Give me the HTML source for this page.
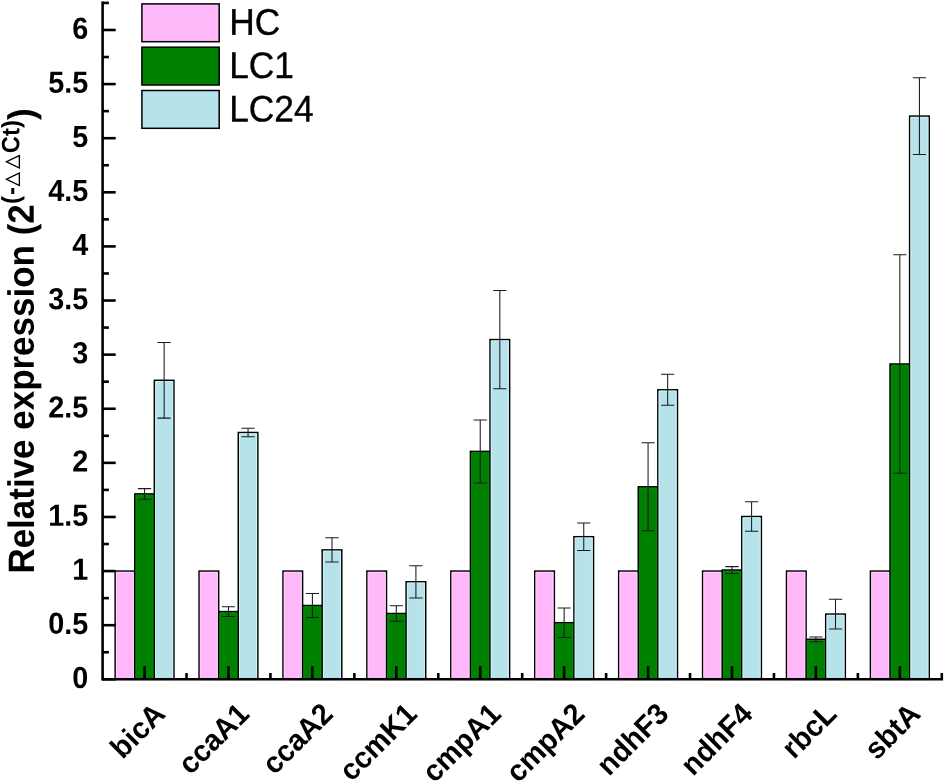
<!DOCTYPE html>
<html><head><meta charset="utf-8"><title>Relative expression</title>
<style>html,body{margin:0;padding:0;background:#fff}svg{display:block}</style>
</head><body>
<svg width="945" height="782" viewBox="0 0 945 782" font-family="'Liberation Sans', sans-serif">
<rect width="945" height="782" fill="#fff"/>
<g stroke="#000" stroke-width="1.5">
<rect x="115.15" y="571.08" width="19.6" height="108.22" fill="#ffb8fa"/>
<rect x="134.75" y="493.90" width="19.6" height="185.40" fill="#008000"/>
<rect x="154.35" y="380.30" width="19.6" height="299.00" fill="#b6e3e9"/>
<rect x="199.07" y="571.08" width="19.6" height="108.22" fill="#ffb8fa"/>
<rect x="218.67" y="611.60" width="19.6" height="67.70" fill="#008000"/>
<rect x="238.27" y="432.50" width="19.6" height="246.80" fill="#b6e3e9"/>
<rect x="282.99" y="571.08" width="19.6" height="108.22" fill="#ffb8fa"/>
<rect x="302.59" y="605.50" width="19.6" height="73.80" fill="#008000"/>
<rect x="322.19" y="549.90" width="19.6" height="129.40" fill="#b6e3e9"/>
<rect x="366.91" y="571.08" width="19.6" height="108.22" fill="#ffb8fa"/>
<rect x="386.51" y="613.50" width="19.6" height="65.80" fill="#008000"/>
<rect x="406.11" y="581.80" width="19.6" height="97.50" fill="#b6e3e9"/>
<rect x="450.83" y="571.08" width="19.6" height="108.22" fill="#ffb8fa"/>
<rect x="470.43" y="451.40" width="19.6" height="227.90" fill="#008000"/>
<rect x="490.03" y="339.60" width="19.6" height="339.70" fill="#b6e3e9"/>
<rect x="534.75" y="571.08" width="19.6" height="108.22" fill="#ffb8fa"/>
<rect x="554.35" y="622.70" width="19.6" height="56.60" fill="#008000"/>
<rect x="573.95" y="536.70" width="19.6" height="142.60" fill="#b6e3e9"/>
<rect x="618.67" y="571.08" width="19.6" height="108.22" fill="#ffb8fa"/>
<rect x="638.27" y="486.80" width="19.6" height="192.50" fill="#008000"/>
<rect x="657.87" y="389.80" width="19.6" height="289.50" fill="#b6e3e9"/>
<rect x="702.59" y="571.08" width="19.6" height="108.22" fill="#ffb8fa"/>
<rect x="722.19" y="570.00" width="19.6" height="109.30" fill="#008000"/>
<rect x="741.79" y="516.50" width="19.6" height="162.80" fill="#b6e3e9"/>
<rect x="786.51" y="571.08" width="19.6" height="108.22" fill="#ffb8fa"/>
<rect x="806.11" y="639.30" width="19.6" height="40.00" fill="#008000"/>
<rect x="825.71" y="614.10" width="19.6" height="65.20" fill="#b6e3e9"/>
<rect x="870.43" y="571.08" width="19.6" height="108.22" fill="#ffb8fa"/>
<rect x="890.03" y="364.00" width="19.6" height="315.30" fill="#008000"/>
<rect x="909.63" y="116.10" width="19.6" height="563.20" fill="#b6e3e9"/>
</g>
<g fill="none" stroke-width="1" stroke-opacity="0.8">
<path d="M116.40 678.00V572.33H133.50V678.00" stroke="#ffd6fd"/>
<path d="M136.00 678.00V495.15H153.10V678.00" stroke="#0a8c0a"/>
<path d="M155.60 678.00V381.55H172.70V678.00" stroke="#d6f6fa"/>
<path d="M200.32 678.00V572.33H217.42V678.00" stroke="#ffd6fd"/>
<path d="M219.92 678.00V612.85H237.02V678.00" stroke="#0a8c0a"/>
<path d="M239.52 678.00V433.75H256.62V678.00" stroke="#d6f6fa"/>
<path d="M284.24 678.00V572.33H301.34V678.00" stroke="#ffd6fd"/>
<path d="M303.84 678.00V606.75H320.94V678.00" stroke="#0a8c0a"/>
<path d="M323.44 678.00V551.15H340.54V678.00" stroke="#d6f6fa"/>
<path d="M368.16 678.00V572.33H385.26V678.00" stroke="#ffd6fd"/>
<path d="M387.76 678.00V614.75H404.86V678.00" stroke="#0a8c0a"/>
<path d="M407.36 678.00V583.05H424.46V678.00" stroke="#d6f6fa"/>
<path d="M452.08 678.00V572.33H469.18V678.00" stroke="#ffd6fd"/>
<path d="M471.68 678.00V452.65H488.78V678.00" stroke="#0a8c0a"/>
<path d="M491.28 678.00V340.85H508.38V678.00" stroke="#d6f6fa"/>
<path d="M536.00 678.00V572.33H553.10V678.00" stroke="#ffd6fd"/>
<path d="M555.60 678.00V623.95H572.70V678.00" stroke="#0a8c0a"/>
<path d="M575.20 678.00V537.95H592.30V678.00" stroke="#d6f6fa"/>
<path d="M619.92 678.00V572.33H637.02V678.00" stroke="#ffd6fd"/>
<path d="M639.52 678.00V488.05H656.62V678.00" stroke="#0a8c0a"/>
<path d="M659.12 678.00V391.05H676.22V678.00" stroke="#d6f6fa"/>
<path d="M703.84 678.00V572.33H720.94V678.00" stroke="#ffd6fd"/>
<path d="M723.44 678.00V571.25H740.54V678.00" stroke="#0a8c0a"/>
<path d="M743.04 678.00V517.75H760.14V678.00" stroke="#d6f6fa"/>
<path d="M787.76 678.00V572.33H804.86V678.00" stroke="#ffd6fd"/>
<path d="M807.36 678.00V640.55H824.46V678.00" stroke="#0a8c0a"/>
<path d="M826.96 678.00V615.35H844.06V678.00" stroke="#d6f6fa"/>
<path d="M871.68 678.00V572.33H888.78V678.00" stroke="#ffd6fd"/>
<path d="M891.28 678.00V365.25H908.38V678.00" stroke="#0a8c0a"/>
<path d="M910.88 678.00V117.35H927.98V678.00" stroke="#d6f6fa"/>
</g>
<g stroke="#1a1a1a" stroke-width="1.05" fill="none">
<path d="M144.55 488.60V499.20M137.95 488.60H151.15M137.95 499.20H151.15"/>
<path d="M164.15 342.50V418.10M157.55 342.50H170.75M157.55 418.10H170.75"/>
<path d="M228.47 606.80V616.40M221.87 606.80H235.07M221.87 616.40H235.07"/>
<path d="M248.07 428.30V436.70M241.47 428.30H254.67M241.47 436.70H254.67"/>
<path d="M312.39 593.50V617.50M305.79 593.50H318.99M305.79 617.50H318.99"/>
<path d="M331.99 537.80V562.00M325.39 537.80H338.59M325.39 562.00H338.59"/>
<path d="M396.31 605.70V621.30M389.71 605.70H402.91M389.71 621.30H402.91"/>
<path d="M415.91 565.70V597.90M409.31 565.70H422.51M409.31 597.90H422.51"/>
<path d="M480.23 419.90V482.90M473.63 419.90H486.83M473.63 482.90H486.83"/>
<path d="M499.83 290.40V388.80M493.23 290.40H506.43M493.23 388.80H506.43"/>
<path d="M564.15 607.90V637.50M557.55 607.90H570.75M557.55 637.50H570.75"/>
<path d="M583.75 523.00V550.40M577.15 523.00H590.35M577.15 550.40H590.35"/>
<path d="M648.07 442.80V530.80M641.47 442.80H654.67M641.47 530.80H654.67"/>
<path d="M667.67 374.30V405.30M661.07 374.30H674.27M661.07 405.30H674.27"/>
<path d="M731.99 566.60V573.40M725.39 566.60H738.59M725.39 573.40H738.59"/>
<path d="M751.59 501.70V531.30M744.99 501.70H758.19M744.99 531.30H758.19"/>
<path d="M815.91 636.90V641.70M809.31 636.90H822.51M809.31 641.70H822.51"/>
<path d="M835.51 599.20V629.00M828.91 599.20H842.11M828.91 629.00H842.11"/>
<path d="M899.83 254.70V473.30M893.23 254.70H906.43M893.23 473.30H906.43"/>
<path d="M919.43 77.80V154.40M912.83 77.80H926.03M912.83 154.40H926.03"/>
</g>
<g stroke="#000" stroke-width="2.6" fill="none">
<path d="M102.6 1.62V680.60"/>
<path d="M102.6 679.3H943.09"/>
<path d="M102.6 679.30h13.1"/>
<path d="M102.6 652.25h6.3"/>
<path d="M102.6 625.19h13.1"/>
<path d="M102.6 598.13h6.3"/>
<path d="M102.6 571.08h13.1"/>
<path d="M102.6 544.02h6.3"/>
<path d="M102.6 516.97h13.1"/>
<path d="M102.6 489.91h6.3"/>
<path d="M102.6 462.86h13.1"/>
<path d="M102.6 435.80h6.3"/>
<path d="M102.6 408.75h13.1"/>
<path d="M102.6 381.69h6.3"/>
<path d="M102.6 354.64h13.1"/>
<path d="M102.6 327.58h6.3"/>
<path d="M102.6 300.53h13.1"/>
<path d="M102.6 273.47h6.3"/>
<path d="M102.6 246.42h13.1"/>
<path d="M102.6 219.36h6.3"/>
<path d="M102.6 192.31h13.1"/>
<path d="M102.6 165.25h6.3"/>
<path d="M102.6 138.20h13.1"/>
<path d="M102.6 111.14h6.3"/>
<path d="M102.6 84.09h13.1"/>
<path d="M102.6 57.03h6.3"/>
<path d="M102.6 29.98h13.1"/>
<path d="M102.6 2.92h6.3"/>
<path d="M144.55 679.3v-13.1"/>
<path d="M186.51 679.3v-6.3"/>
<path d="M228.47 679.3v-13.1"/>
<path d="M270.43 679.3v-6.3"/>
<path d="M312.39 679.3v-13.1"/>
<path d="M354.35 679.3v-6.3"/>
<path d="M396.31 679.3v-13.1"/>
<path d="M438.27 679.3v-6.3"/>
<path d="M480.23 679.3v-13.1"/>
<path d="M522.19 679.3v-6.3"/>
<path d="M564.15 679.3v-13.1"/>
<path d="M606.11 679.3v-6.3"/>
<path d="M648.07 679.3v-13.1"/>
<path d="M690.03 679.3v-6.3"/>
<path d="M731.99 679.3v-13.1"/>
<path d="M773.95 679.3v-6.3"/>
<path d="M815.91 679.3v-13.1"/>
<path d="M857.87 679.3v-6.3"/>
<path d="M899.83 679.3v-13.1"/>
<path d="M941.79 679.3v-6.3"/>
</g>
<g font-size="28.8" font-weight="bold" text-anchor="end" fill="#000">
<text transform="translate(88.3 688.00) rotate(0.03) scale(1 1.06)">0</text>
<text transform="translate(88.3 633.89) rotate(0.03) scale(1 1.06)">0.5</text>
<text transform="translate(88.3 579.78) rotate(0.03) scale(1 1.06)">1</text>
<text transform="translate(88.3 525.67) rotate(0.03) scale(1 1.06)">1.5</text>
<text transform="translate(88.3 471.56) rotate(0.03) scale(1 1.06)">2</text>
<text transform="translate(88.3 417.45) rotate(0.03) scale(1 1.06)">2.5</text>
<text transform="translate(88.3 363.34) rotate(0.03) scale(1 1.06)">3</text>
<text transform="translate(88.3 309.23) rotate(0.03) scale(1 1.06)">3.5</text>
<text transform="translate(88.3 255.12) rotate(0.03) scale(1 1.06)">4</text>
<text transform="translate(88.3 201.01) rotate(0.03) scale(1 1.06)">4.5</text>
<text transform="translate(88.3 146.90) rotate(0.03) scale(1 1.06)">5</text>
<text transform="translate(88.3 92.79) rotate(0.03) scale(1 1.06)">5.5</text>
<text transform="translate(88.3 38.68) rotate(0.03) scale(1 1.06)">6</text>
</g>
<g font-size="28.9" font-weight="bold" text-anchor="end" fill="#000">
<text transform="translate(166.85 715.6) rotate(-45) scale(1 1.03)">bicA</text>
<text transform="translate(250.77 715.6) rotate(-45) scale(1 1.03)">ccaA1</text>
<text transform="translate(334.69 715.6) rotate(-45) scale(1 1.03)">ccaA2</text>
<text transform="translate(418.61 715.6) rotate(-45) scale(1 1.03)">ccmK1</text>
<text transform="translate(502.53 715.6) rotate(-45) scale(1 1.03)">cmpA1</text>
<text transform="translate(586.45 715.6) rotate(-45) scale(1 1.03)">cmpA2</text>
<text transform="translate(670.37 715.6) rotate(-45) scale(1 1.03)">ndhF3</text>
<text transform="translate(754.29 715.6) rotate(-45) scale(1 1.03)">ndhF4</text>
<text transform="translate(838.21 715.6) rotate(-45) scale(1 1.03)">rbcL</text>
<text transform="translate(922.13 715.6) rotate(-45) scale(1 1.03)">sbtA</text>
</g>
<text transform="translate(33.9 573.6) rotate(-90.03) scale(0.98 1.03)" x="0" y="0" font-size="35.7" font-weight="bold" fill="#000">Relative expression (2<tspan x="377.04" y="-13.98" font-size="24.3" >(</tspan><tspan x="386.22" y="-13.98" font-size="24.3" >-</tspan><tspan x="393.88" y="-14.37" font-size="17.0" font-weight="normal" stroke="#000" stroke-width="0.7" font-family="'Liberation Sans', 'WenQuanYi Zen Hei', sans-serif">△</tspan><tspan x="411.84" y="-14.37" font-size="17.0" font-weight="normal" stroke="#000" stroke-width="0.7" font-family="'Liberation Sans', 'WenQuanYi Zen Hei', sans-serif">△</tspan><tspan x="428.98" y="-13.98" font-size="24.3" >C</tspan><tspan x="446.53" y="-13.98" font-size="24.3" >t</tspan><tspan x="454.69" y="-13.98" font-size="24.3" >)</tspan><tspan x="462.76" y="0.00" font-size="35.7" >)</tspan></text>
<g stroke="#000" stroke-width="1.5">
<rect x="141.9" y="3.90" width="77.3" height="37.8" fill="#ffb8fa"/>
<rect x="141.9" y="47.20" width="77.3" height="37.8" fill="#008000"/>
<rect x="141.9" y="90.50" width="77.3" height="37.8" fill="#b6e3e9"/>
</g>
<g font-size="35.3" fill="#000" stroke="#000" stroke-width="0.35">
<text transform="translate(229.2 34.80) rotate(0.03) scale(1 1.05)">HC</text>
<text transform="translate(229.2 78.10) rotate(0.03) scale(1 1.05)">LC1</text>
<text transform="translate(229.2 121.40) rotate(0.03) scale(1 1.05)">LC24</text>
</g>
</svg>
</body></html>
